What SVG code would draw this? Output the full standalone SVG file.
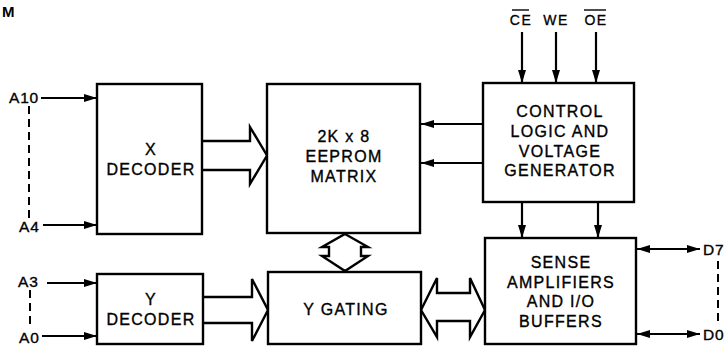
<svg xmlns="http://www.w3.org/2000/svg" width="728" height="346" viewBox="0 0 728 346">
<defs>
<style>
.box{fill:#fff;stroke:#000;stroke-width:2.4}
.t{font-family:"Liberation Sans",Arial,sans-serif;font-size:16px;fill:#000;stroke:#000;stroke-width:0.35;text-anchor:middle;letter-spacing:1.3px}
.lbl{font-family:"Liberation Sans",Arial,sans-serif;font-size:15.5px;fill:#000;stroke:#000;stroke-width:0.35;letter-spacing:0.8px}
.sig{font-family:"Liberation Sans",Arial,sans-serif;font-size:14px;fill:#000;stroke:#000;stroke-width:0.3;text-anchor:middle;letter-spacing:1.5px}
.ln{fill:none;stroke:#000;stroke-width:2.2}
.dash{fill:none;stroke:#000;stroke-width:2;stroke-dasharray:8 5}
.hollow{fill:#fff;stroke:#000;stroke-width:2.4;stroke-linejoin:miter}
</style>
<marker id="ah" viewBox="0 0 13 8" refX="13" refY="4" markerWidth="13" markerHeight="8" markerUnits="userSpaceOnUse" orient="auto-start-reverse">
<path d="M0,0 L13,4 L0,8 z" fill="#000"/>
</marker>
</defs>
<rect width="728" height="346" fill="#fff"/>
<text x="2" y="17" font-family="Liberation Sans,Arial,sans-serif" font-size="15" font-weight="bold">M</text>

<g id="connectors">
<line class="ln" x1="41" y1="98" x2="97" y2="98" marker-end="url(#ah)"/>
<line class="ln" x1="43" y1="225" x2="97" y2="225" marker-end="url(#ah)"/>
<line class="dash" x1="29" y1="106" x2="29" y2="218"/>
<line class="ln" x1="47" y1="283" x2="97" y2="283" marker-end="url(#ah)"/>
<line class="ln" x1="42" y1="336" x2="97" y2="336" marker-end="url(#ah)"/>
<line class="dash" x1="30" y1="290" x2="30" y2="328"/>
<line class="ln" x1="522" y1="32" x2="522" y2="83" marker-end="url(#ah)"/>
<line class="ln" x1="556" y1="32" x2="556" y2="83" marker-end="url(#ah)"/>
<line class="ln" x1="596" y1="32" x2="596" y2="83" marker-end="url(#ah)"/>
<line class="ln" x1="483" y1="124" x2="421" y2="124" marker-end="url(#ah)"/>
<line class="ln" x1="483" y1="163" x2="421" y2="163" marker-end="url(#ah)"/>
<line class="ln" x1="522" y1="202" x2="522" y2="238" marker-end="url(#ah)"/>
<line class="ln" x1="598" y1="202" x2="598" y2="238" marker-end="url(#ah)"/>
<line class="ln" x1="637" y1="249" x2="700" y2="249" marker-start="url(#ah)" marker-end="url(#ah)"/>
<line class="ln" x1="637" y1="334" x2="700" y2="334" marker-start="url(#ah)" marker-end="url(#ah)"/>
<line class="dash" x1="718" y1="261" x2="718" y2="323"/>
<path class="hollow" d="M202,141 H250 V127 L267,155.5 L250,184 V170 H202"/>
<path class="hollow" d="M203,297 H252 V279 L268,310 L252,341 V323 H203"/>
<path class="hollow" d="M421,310 L437,278 V293 H470 V278 L485,310 L470,337 V321 H437 V337 Z"/>
<path class="hollow" d="M345,234 L368,247 H361 V256 H368 L345,271 L322,256 H329 V247 H322 Z"/>
</g>

<g id="labels">
<text class="lbl" x="9" y="103">A10</text>
<text class="lbl" x="19" y="232">A4</text>
<text class="lbl" x="18" y="287">A3</text>
<text class="lbl" x="19" y="343">A0</text>
<text class="sig" x="521" y="25">CE</text>
<line x1="512" y1="10" x2="529" y2="10" stroke="#000" stroke-width="1.4"/>
<text class="sig" x="556" y="25">WE</text>
<text class="sig" x="596" y="25">OE</text>
<line x1="584" y1="10" x2="606" y2="10" stroke="#000" stroke-width="1.4"/>
<text class="lbl" x="703" y="255">D7</text>
<text class="lbl" x="703" y="340">D0</text>
</g>

<g id="x-decoder">
<rect class="box" x="97" y="84" width="105" height="150"/>
<text class="t" x="151" y="155">X</text>
<text class="t" x="151" y="175">DECODER</text>
</g>

<g id="y-decoder">
<rect class="box" x="97" y="274" width="106" height="70"/>
<text class="t" x="151" y="305">Y</text>
<text class="t" x="151" y="325">DECODER</text>
</g>

<g id="eeprom-matrix">
<rect class="box" x="267" y="84" width="153" height="149"/>
<text class="t" x="344" y="142">2K x 8</text>
<text class="t" x="344" y="162">EEPROM</text>
<text class="t" x="344" y="182">MATRIX</text>
</g>

<g id="y-gating">
<rect class="box" x="268" y="272" width="153" height="72"/>
<text class="t" x="346" y="315">Y GATING</text>
</g>

<g id="control-logic">
<rect class="box" x="483" y="83" width="151" height="119"/>
<text class="t" x="560" y="117">CONTROL</text>
<text class="t" x="560" y="137">LOGIC AND</text>
<text class="t" x="560" y="157">VOLTAGE</text>
<text class="t" x="560" y="176">GENERATOR</text>
</g>

<g id="sense-amplifiers">
<rect class="box" x="485" y="238" width="151" height="106"/>
<text class="t" x="561" y="268">SENSE</text>
<text class="t" x="561" y="288">AMPLIFIERS</text>
<text class="t" x="561" y="307">AND I/O</text>
<text class="t" x="561" y="327">BUFFERS</text>
</g>
</svg>
